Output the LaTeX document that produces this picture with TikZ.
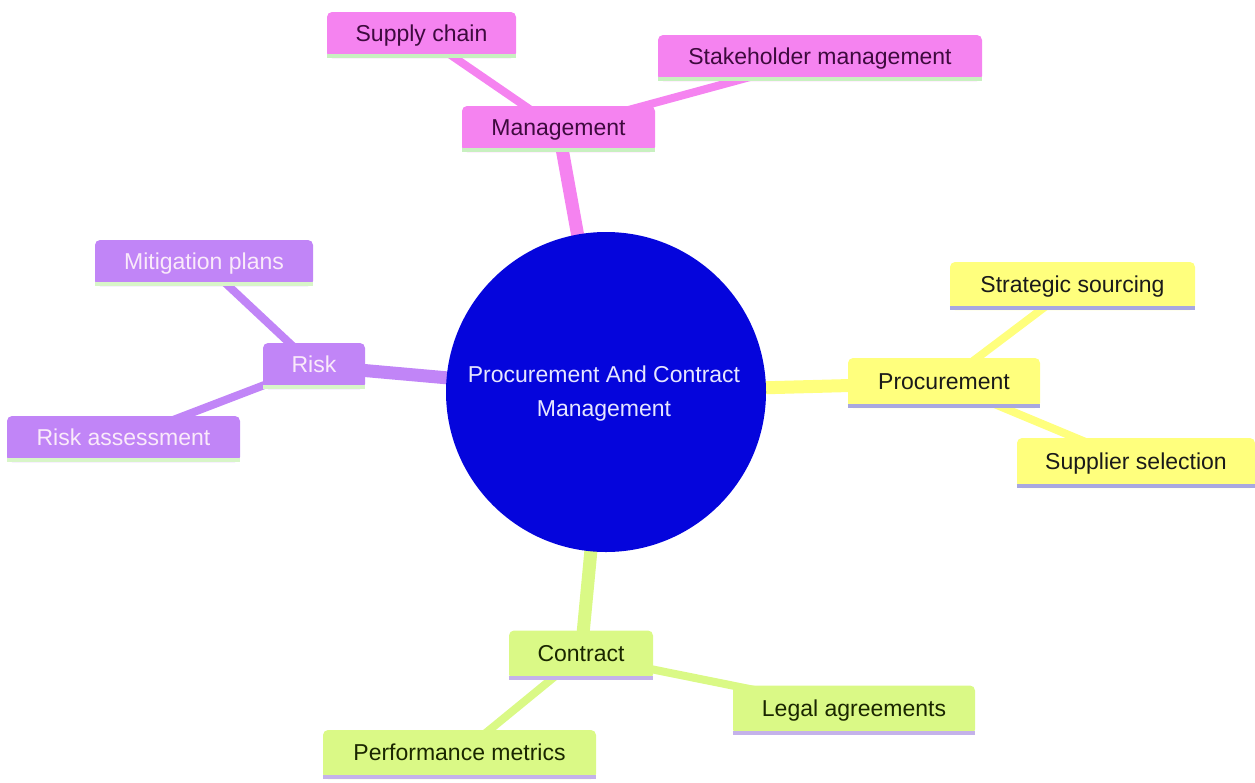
\documentclass[tikz,border=0pt]{standalone}
\usepackage{fontspec}
\setmainfont{Liberation Sans}
\usetikzlibrary{backgrounds}
\definecolor{mgfill}{HTML}{F583F0}
\definecolor{mgtext}{HTML}{3E0A3E}
\definecolor{mgline}{HTML}{C8F0C0}
\definecolor{rkfill}{HTML}{C185F7}
\definecolor{rktext}{HTML}{FAEAFA}
\definecolor{rkline}{HTML}{D8F5C8}
\definecolor{prfill}{HTML}{FFFF7D}
\definecolor{prtext}{HTML}{1A1A1A}
\definecolor{prline}{HTML}{A8A8E0}
\definecolor{ctfill}{HTML}{DAF986}
\definecolor{cttext}{HTML}{1A2600}
\definecolor{ctline}{HTML}{C4B2EA}
\definecolor{rootfill}{HTML}{0505DC}
\definecolor{roottext}{HTML}{E6E6FF}
\tikzset{
  box/.style={rounded corners=5pt, inner sep=0pt, minimum height=46pt,
    text height=16.5pt, text depth=4pt,
    font=\fontsize{23}{27}\selectfont},
  mgbox/.style={box, fill=mgfill, text=mgtext},
  rkbox/.style={box, fill=rkfill, text=rktext},
  prbox/.style={box, fill=prfill, text=prtext},
  ctbox/.style={box, fill=ctfill, text=cttext},
  rootnode/.style={circle, fill=rootfill, minimum size=320pt,
    inner sep=0pt},
  roottxt/.style={text=roottext, align=center, font=\fontsize{23}{34}\selectfont},
  mainedge/.style={line width=13pt},
  subedge/.style={line width=8pt},
  underline/.style={line width=4pt}
}
\begin{document}
\begin{tikzpicture}[x=1pt,y=-1pt]
\useasboundingbox (0,0) rectangle (1255,782);
\node[rootnode] (root) at (606,392) {};
\node[roottxt] (roottext) at (604,394) {Procurement And Contract\\Management};
% Management branch
\node[mgbox, minimum width=193pt] (mg) at (558.5,129) {Management};
\node[mgbox, minimum width=189pt] (sc) at (421.5,35) {Supply chain};
\node[mgbox, minimum width=324pt] (sh) at (820,58) {Stakeholder management};
% Risk branch
\node[rkbox, minimum width=102pt] (rk) at (314,366) {Risk};
\node[rkbox, minimum width=218pt] (mp) at (204,263) {Mitigation plans};
\node[rkbox, minimum width=233pt] (ra) at (123.5,439) {Risk assessment};
% Procurement branch
\node[prbox, minimum width=192pt, minimum height=50pt] (pr) at (944,383) {Procurement};
\node[prbox, minimum width=245pt, minimum height=48pt] (ss) at (1072.5,286) {Strategic sourcing};
\node[prbox, minimum width=238pt, minimum height=50pt] (sp) at (1136,463) {Supplier selection};
% Contract branch
\node[ctbox, minimum width=144pt, minimum height=49pt] (ct) at (581,655) {Contract};
\node[ctbox, minimum width=242pt, minimum height=49pt] (la) at (854,710) {Legal agreements};
\node[ctbox, minimum width=273pt, minimum height=49pt] (pm) at (459.5,754.5) {Performance metrics};
% underlines
\foreach \n in {mg,sc,sh}{\draw[underline, mgline] ([yshift=2pt]\n.south west) -- ([yshift=2pt]\n.south east);}
\foreach \n in {rk,mp,ra}{\draw[underline, rkline] ([yshift=2pt]\n.south west) -- ([yshift=2pt]\n.south east);}
\foreach \n in {pr,ss,sp}{\draw[underline, prline] ([yshift=2pt]\n.south west) -- ([yshift=2pt]\n.south east);}
\foreach \n in {ct,la,pm}{\draw[underline, ctline] ([yshift=2pt]\n.south west) -- ([yshift=2pt]\n.south east);}
\begin{pgfonlayer}{background}
\draw[mainedge, mgfill] (root.center) -- (mg.center);
\draw[mainedge, rkfill] (root.center) -- (rk.center);
\draw[mainedge, prfill] (root.center) -- (pr.center);
\draw[mainedge, ctfill] (root.center) -- (ct.center);
\draw[subedge, mgfill] (mg.center) -- (sc.center);
\draw[subedge, mgfill] (mg.center) -- (sh.center);
\draw[subedge, rkfill] (rk.center) -- (mp.center);
\draw[subedge, rkfill] (rk.center) -- (ra.center);
\draw[subedge, prfill] (pr.center) -- (ss.center);
\draw[subedge, prfill] (pr.center) -- (sp.center);
\draw[subedge, ctfill] (ct.center) -- (la.center);
\draw[subedge, ctfill] (ct.center) -- (pm.center);
\end{pgfonlayer}
\end{tikzpicture}
\end{document}
